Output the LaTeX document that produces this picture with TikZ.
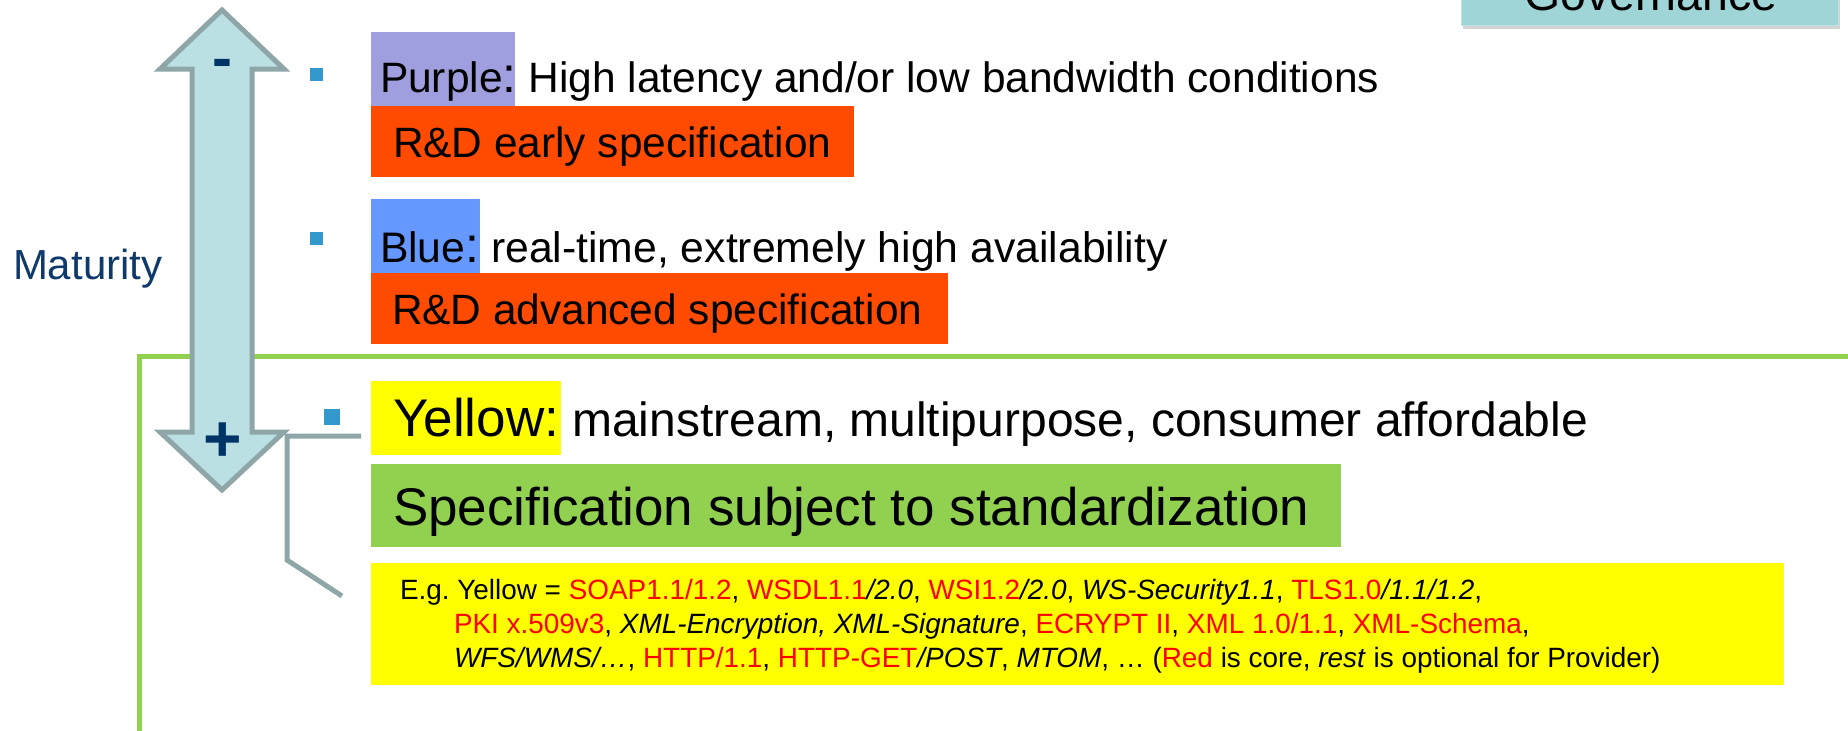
\documentclass[tikz,border=0pt]{standalone}
\usepackage{fontspec}
\setmainfont{Liberation Sans}
\usetikzlibrary{shadows}
\definecolor{arrowfill}{HTML}{BBE0E3}
\definecolor{arrowline}{HTML}{8EA6A8}
\definecolor{navy}{HTML}{003366}
\definecolor{bulletc}{HTML}{3399CC}
\definecolor{purplec}{HTML}{9F9FDF}
\definecolor{orangec}{HTML}{FF4B00}
\definecolor{bluec}{HTML}{6699FF}
\definecolor{greenc}{HTML}{92D050}
\definecolor{yellowc}{HTML}{FFFF00}
\definecolor{govc}{HTML}{A0D5D8}
\definecolor{matc}{HTML}{10396B}
\definecolor{redc}{HTML}{FF0000}
\newcommand{\fsz}[1]{\fontsize{#1}{#1}\selectfont}
\newcommand{\rd}[1]{\textcolor{redc}{#1}}
\frenchspacing
\begin{document}
\begin{tikzpicture}[x=1pt,y=-1pt,
  box/.style={inner sep=0pt, outer sep=0pt, draw=none},
  txt/.style={inner sep=0pt, outer sep=0pt, anchor=base west, text=black},
  bullet/.style={box, fill=bulletc},
  conn/.style={draw=arrowline, line width=5pt},
]
\useasboundingbox (0,0) rectangle (1848,731);
\clip (0,0) rectangle (1848,731);

% Governance box (cut by the top edge)
\node[box, fill=govc, draw=govc!70!white, line width=1pt, minimum width=377pt, minimum height=90pt,
  drop shadow={shadow xshift=2pt, shadow yshift=-4pt, opacity=0.35}] (gov) at (1649.5,-20) {};
\node[inner sep=0pt, anchor=base] (govt) at (1651,10) {\fsz{46.5}Governance};

% green frame line
\coordinate (gbot) at (139,740);
\coordinate (gcorner) at (139,356);
\coordinate (gright) at (1860,356);
\draw[greenc, line width=5pt] (gbot) -- (gcorner) -- (gright);

% maturity double arrow
\draw[arrowline, fill=arrowfill, line width=5pt, line join=miter]
  (222,10) -- (284,69) -- (252,69) -- (252,432) -- (284,432) -- (222,490)
  -- (160,432) -- (192,432) -- (192,69) -- (160,69) -- cycle;
\node[inner sep=0pt, text=navy, font=\bfseries] (minus) at (222,69) {\fsz{60}-};
\node[inner sep=0pt, text=navy, font=\bfseries] (plus) at (223,442) {\fsz{66}+};
\node[txt, text=matc] (mat) at (13,279) {\fsz{42}Maturity};

% bullets
\node[bullet, minimum size=13pt] (b1) at (316,74) {};
\node[bullet, minimum size=13pt] (b2) at (316,238) {};
\node[bullet, minimum size=16pt] (b3) at (332,417) {};

% purple item
\node[box, fill=purplec, minimum width=144pt, minimum height=74pt] (pbox) at (443,69) {};
\node[box, fill=orangec, minimum width=483pt, minimum height=71pt] (obox1) at (612.5,141.5) {};
\node[txt] (ptxt) at (380,92) {\fsz{42.5}Purple{\fsz{50}:} High latency and/or low bandwidth conditions};
\node[txt] (o1txt) at (393,157) {\fsz{42.4}R\&D early specification};

% blue item
\node[box, fill=bluec, minimum width=109pt, minimum height=74pt] (bbox) at (425.5,236) {};
\node[box, fill=orangec, minimum width=577pt, minimum height=71pt] (obox2) at (659.5,308.5) {};
\node[txt] (btxt) at (380,262) {\fsz{42.7}Blue{\fsz{50}:} real-time, extremely high availability};
\node[txt] (o2txt) at (392,324) {\fsz{42.4}R\&D advanced specification};

% yellow item
\node[box, fill=yellowc, minimum width=190pt, minimum height=74pt] (ybox) at (466,418) {};
\node[box, fill=greenc, minimum width=970pt, minimum height=83pt] (gbox) at (856,505.5) {};
\node[txt] (ytxt) at (393,436) {\fsz{53}Yellow:{\fsz{48} mainstream, multipurpose, consumer affordable}};
\node[txt] (stxt) at (393,525) {\fsz{53}Specification subject to standardization};

% example box
\node[box, fill=yellowc, minimum width=1413pt, minimum height=122pt] (egbox) at (1077.5,624) {};
\node[txt] (eg1) at (400,599) {\fsz{27.9}E.g. Yellow = \rd{SOAP1.1/1.2}, \rd{WSDL1.1}\textit{/2.0}, \rd{WSI1.2}\textit{/2.0}, \textit{WS-Security1.1}, \rd{TLS1.0}\textit{/1.1/1.2},};
\node[txt] (eg2) at (454,633) {\fsz{27.9}\rd{PKI x.509v3}, \textit{XML-Encryption, XML-Signature}, \rd{ECRYPT II}, \rd{XML 1.0/1.1}, \rd{XML-Schema},};
\node[txt] (eg3) at (454,667) {\fsz{27.9}\textit{WFS/WMS/…}, \rd{HTTP/1.1}, \rd{HTTP-GET}\textit{/POST}, \textit{MTOM}, … (\rd{Red} is core, \textit{rest} is optional for Provider)};

% callout connector
\coordinate (c1) at (361,436);
\coordinate (c2) at (287,436);
\coordinate (c3) at (287,560);
\coordinate (c4) at (342,596);
\draw[conn] (c1) -- (c2) -- (c3) -- (c4);
\end{tikzpicture}
\end{document}
